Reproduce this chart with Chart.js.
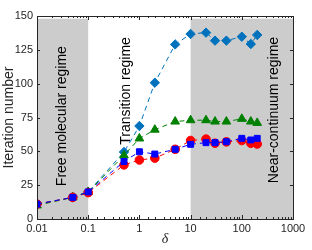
<!DOCTYPE html>
<html>
<head>
<meta charset="utf-8">
<script src="https://cdn.jsdelivr.net/npm/chart.js@4.4.1/dist/chart.umd.min.js"></script>
<style>
  html, body { margin: 0; padding: 0; background: #fff; }
  #wrap { width: 312px; height: 250px; }
</style>
</head>
<body>
<div id="wrap"><canvas id="chart"></canvas></div>
<script>
// delta values (x axis)
const deltas = [0.01, 0.05, 0.1, 0.5, 1, 2, 5, 10, 20, 30, 50, 100, 150, 200];

// iteration numbers per series
const diamondIters = [11, 16, 20, 49.5, 68.7, 100.7, 129, 136.7, 137.7, 131.8, 131.8, 134.7, 129.3, 136];
const triangleIters = [10, 16, 20, 47, 59.5, 66, 72, 73, 73, 72, 72, 74, 72, 71];
const circleIters = [11, 16, 19.5, 40, 43.6, 45, 51.5, 58, 59, 56, 57, 58, 56, 55.4];
const squareIters = [11, 16, 20, 42.5, 49.7, 48, 51.5, 55.2, 56.4, 56.4, 57.1, 59.6, 58.4, 59.6];

const xTickLabels = ['0.01', '0.1', '1', '10', '100', '1000'];
const yTicks = [0, 25, 50, 75, 100, 125, 150];

// shaded regimes [from, to]
const shadedRanges = [[0.01, 0.1], [10, 1000]];
const shadeTop = 148;

const regimeNames = ['Free molecular regime', 'Transition regime', 'Near-continuum regime'];

function toPoints(vals) {
    return deltas.map((d, i) => ({ x: d, y: vals[i] }));
}

function makeSet(vals, color, style, radius, order) {
    return {
        data: toPoints(vals),
        borderColor: color,
        backgroundColor: color,
        borderWidth: 1,
        borderDash: [5, 4],
        pointStyle: style,
        pointRadius: radius,
        pointBorderWidth: 1,
        pointBackgroundColor: color,
        pointBorderColor: color,
        tension: 0,
        order: order
    };
}

// grey boxes, regime labels, ticks and frame
const decorPlugin = {
    id: 'decor',
    beforeDatasetsDraw(chart) {
        const ctx = chart.ctx;
        const xs = chart.scales.x, ys = chart.scales.y;
        ctx.save();
        ctx.fillStyle = '#cccccc';
        shadedRanges.forEach(r => {
            const x0 = xs.getPixelForValue(r[0]);
            const x1 = xs.getPixelForValue(r[1]);
            const y0 = ys.getPixelForValue(shadeTop);
            const y1 = ys.getPixelForValue(0);
            ctx.fillRect(x0, y0, x1 - x0, y1 - y0);
        });

        // regime labels, anchored in data units
        const anchors = [[0.0316, 76], [0.54, 94.6], [420, 80.5]];
        ctx.fillStyle = '#000';
        ctx.font = '14px "Liberation Sans", Arial, sans-serif';
        ctx.textAlign = 'center';
        ctx.textBaseline = 'middle';
        regimeNames.forEach((name, i) => {
            const px = xs.getPixelForValue(anchors[i][0]);
            const py = ys.getPixelForValue(anchors[i][1]);
            ctx.save();
            ctx.translate(px, py);
            ctx.rotate(-Math.PI / 2);
            ctx.fillText(name, 0, 0);
            ctx.restore();
        });
        ctx.restore();
    },
    afterDatasetsDraw(chart) {
        const ctx = chart.ctx;
        const a = chart.chartArea;
        const xs = chart.scales.x, ys = chart.scales.y;
        ctx.save();
        ctx.strokeStyle = '#262626';
        ctx.lineWidth = 1;
        ctx.beginPath();
        xs.ticks.forEach(t => {
            const px = Math.round(xs.getPixelForValue(t.value)) + 0.5;
            const lg = Math.log10(t.value);
            const major = Math.abs(lg - Math.round(lg)) < 1e-9;
            const len = major ? 4 : 2;
            ctx.moveTo(px, a.bottom);
            ctx.lineTo(px, a.bottom - len);
            ctx.moveTo(px, a.top);
            ctx.lineTo(px, a.top + len);
        });
        ys.ticks.forEach(t => {
            const py = Math.round(ys.getPixelForValue(t.value)) + 0.5;
            ctx.moveTo(a.left, py);
            ctx.lineTo(a.left + 3, py);
            ctx.moveTo(a.right, py);
            ctx.lineTo(a.right - 3, py);
        });
        ctx.stroke();
        ctx.strokeRect(Math.round(a.left) + 0.5, Math.round(a.top) + 0.5,
            Math.round(a.right - a.left), Math.round(a.bottom - a.top));
        ctx.restore();
    }
};

document.addEventListener('DOMContentLoaded', function () {
    const ctx = document.getElementById('chart');
    new Chart(ctx, {
        type: 'line',
        data: {
            datasets: [
                makeSet(diamondIters, '#0072bd', 'rectRot', 4.7, 4),
                makeSet(triangleIters, '#008000', 'triangle', 5, 3),
                makeSet(circleIters, '#ff0000', 'circle', 4.3, 2),
                makeSet(squareIters, '#0000ff', 'rect', 4.2, 1)
            ]
        },
        options: {
            responsive: true,
            maintainAspectRatio: false,
            animation: false,
            layout: { padding: { top: 16, right: 19, left: 0, bottom: 0 } },
            plugins: { legend: { display: false }, tooltip: { enabled: false } },
            scales: {
                x: {
                    type: 'logarithmic',
                    min: 0.01,
                    max: 1000,
                    afterFit(scale) { scale.height = 31; },
                    grid: { display: false, drawTicks: false },
                    border: { display: false },
                    ticks: {
                        autoSkip: false,
                        maxRotation: 0,
                        padding: 3,
                        color: '#262626',
                        font: { size: 11, family: '"Liberation Sans", Arial, sans-serif' },
                        callback: function (value) {
                            const lg = Math.log10(value);
                            if (Math.abs(lg - Math.round(lg)) > 1e-9) return '';
                            return xTickLabels[Math.round(lg) + 2];
                        }
                    },
                    title: {
                        display: true,
                        text: 'δ',
                        color: '#262626',
                        padding: { top: 0, bottom: 2 },
                        font: { size: 14, style: 'italic', family: '"Liberation Serif", "Times New Roman", serif' }
                    }
                },
                y: {
                    min: 0,
                    max: 150,
                    afterFit(scale) { scale.width = 37; },
                    afterBuildTicks(scale) { scale.ticks = yTicks.map(v => ({ value: v })); },
                    grid: { display: false, drawTicks: false },
                    border: { display: false },
                    ticks: {
                        padding: 4,
                        color: '#262626',
                        font: { size: 11, family: '"Liberation Sans", Arial, sans-serif' }
                    },
                    title: {
                        display: true,
                        text: 'Iteration number',
                        color: '#262626',
                        padding: { top: 1, bottom: 0 },
                        font: { size: 14, family: '"Liberation Sans", Arial, sans-serif' }
                    }
                }
            }
        },
        plugins: [decorPlugin]
    });
});
</script>
</body>
</html>
